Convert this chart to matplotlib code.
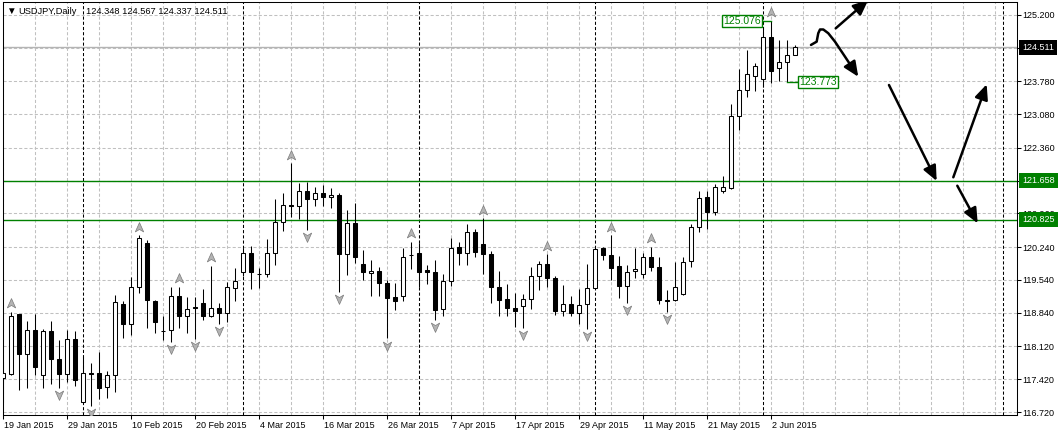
import matplotlib
matplotlib.use('Agg')
import matplotlib.pyplot as plt
import matplotlib.transforms as mtransforms
from matplotlib.path import Path
from matplotlib.patches import FancyArrowPatch
import numpy as np

plt.rcParams['font.family'] = ['Liberation Sans', 'DejaVu Sans']

# USDJPY daily, 19 Jan 2015 .. 5 Jun 2015
opens = [117.44, 117.53, 118.81, 117.95, 118.47, 117.50, 118.44, 117.85, 117.53, 118.27,
         116.94, 117.56, 117.55, 117.26, 117.50, 119.02, 118.59, 119.40, 120.34, 119.09,
         118.46, 118.47, 119.20, 118.76, 118.96, 119.04, 118.78, 118.94, 118.83, 119.36,
         119.70, 120.11, 119.67, 119.66, 120.11, 120.77, 121.14, 121.11, 121.44, 121.28,
         121.39, 121.31, 121.36, 120.09, 120.75, 119.88, 119.68, 119.73, 119.47, 119.18,
         119.20, 120.08, 120.11, 119.75, 119.70, 118.91, 119.52, 120.25, 120.11, 120.57,
         120.30, 120.09, 119.38, 119.13, 118.94, 118.99, 119.13, 119.63, 119.88, 119.59,
         118.88, 119.02, 118.83, 119.02, 119.36, 120.22, 120.07, 119.84, 119.41, 119.73,
         119.66, 120.04, 119.81, 119.11, 119.11, 119.23, 119.94, 120.67, 121.32, 120.99,
         121.45, 121.50, 123.05, 123.60, 123.90, 123.83, 124.72, 124.06, 124.20, 124.348]
highs = [117.79, 118.86, 118.81, 118.67, 118.81, 118.49, 118.66, 118.26, 118.47, 118.44,
         117.90, 117.76, 118.00, 117.60, 119.22, 119.09, 119.60, 120.49, 120.39, 119.11,
         118.76, 119.40, 119.40, 119.17, 119.17, 119.34, 119.84, 119.05, 119.50, 119.79,
         120.23, 120.27, 119.79, 120.41, 121.26, 121.39, 122.03, 121.62, 121.64, 121.52,
         121.57, 121.50, 121.39, 121.03, 121.18, 120.18, 119.97, 119.82, 119.55, 119.47,
         120.22, 120.36, 120.32, 119.86, 119.97, 119.66, 120.44, 120.36, 120.74, 120.62,
         120.86, 120.16, 119.73, 119.45, 119.26, 119.24, 119.81, 119.95, 120.09, 119.63,
         119.43, 119.20, 119.34, 119.88, 120.25, 120.25, 120.50, 120.05, 119.86, 120.22,
         120.11, 120.25, 120.04, 119.33, 119.93, 120.02, 120.74, 121.43, 121.43, 121.58,
         121.76, 123.29, 124.05, 124.45, 124.18, 124.95, 125.076, 124.67, 124.67, 124.567]
lows = [116.93, 117.52, 117.18, 117.24, 117.51, 117.24, 117.32, 117.24, 117.36, 117.28,
        116.93, 116.85, 117.00, 117.01, 117.15, 118.31, 118.36, 119.27, 118.51, 118.40,
        118.26, 118.22, 118.52, 118.41, 118.28, 118.69, 118.74, 118.61, 118.64, 119.09,
        119.63, 119.35, 119.36, 119.61, 119.86, 120.59, 120.89, 120.84, 120.61, 121.12,
        121.11, 121.07, 119.29, 119.65, 119.90, 119.55, 119.20, 119.20, 118.29, 118.90,
        119.10, 119.77, 119.40, 119.45, 118.69, 118.78, 119.41, 119.86, 119.85, 120.04,
        119.67, 119.05, 118.78, 118.78, 118.54, 118.52, 118.91, 119.33, 119.40, 118.79,
        118.78, 118.77, 118.59, 118.49, 119.35, 119.97, 119.55, 119.16, 119.04, 119.58,
        119.58, 119.74, 119.02, 118.86, 119.10, 119.22, 119.81, 120.56, 120.62, 120.93,
        121.40, 121.48, 122.74, 123.45, 123.58, 123.67, 123.74, 123.78, 123.773, 124.337]
closes = [117.55, 118.77, 117.95, 118.47, 117.69, 118.44, 117.86, 117.53, 118.27, 117.40,
          117.56, 117.53, 117.23, 117.51, 119.08, 118.61, 119.40, 120.43, 119.11, 118.65,
          118.45, 119.20, 118.76, 118.91, 118.95, 118.78, 118.94, 118.84, 119.40, 119.52,
          120.11, 119.70, 119.66, 120.11, 120.77, 121.14, 121.12, 121.44, 121.26, 121.40,
          121.31, 121.36, 120.09, 120.75, 120.02, 119.70, 119.74, 119.47, 119.16, 119.10,
          120.04, 120.07, 119.72, 119.70, 118.90, 119.52, 120.22, 120.11, 120.56, 120.14,
          120.09, 119.38, 119.11, 118.95, 118.88, 119.13, 119.63, 119.88, 119.58, 118.88,
          119.02, 118.83, 119.01, 119.36, 120.20, 120.07, 119.80, 119.41, 119.70, 119.77,
          120.04, 119.81, 119.11, 119.10, 119.38, 119.93, 120.67, 121.30, 120.99, 121.52,
          121.52, 123.04, 123.60, 123.93, 124.12, 124.72, 124.01, 124.19, 124.35, 124.511]

# bar indices carrying a fractal mark
up_fractals = [1, 17, 22, 26, 36, 51, 60, 68, 76, 81, 96]
down_fractals = [7, 11, 21, 24, 27, 38, 42, 48, 54, 65, 73, 78, 83]

date_labels = ['19 Jan 2015', '29 Jan 2015', '10 Feb 2015', '20 Feb 2015', '4 Mar 2015',
               '16 Mar 2015', '26 Mar 2015', '7 Apr 2015', '17 Apr 2015', '29 Apr 2015',
               '11 May 2015', '21 May 2015', '2 Jun 2015']
month_starts = [10, 30, 52, 74, 95, 125]

price_ticks = [125.20, 124.49, 123.78, 123.08, 122.36, 121.66, 120.96,
               120.24, 119.54, 118.84, 118.12, 117.42, 116.72]
price_tick_labels = ['125.200', '124.490', '123.780', '123.080', '122.360', '121.660', '120.960',
                     '120.240', '119.540', '118.840', '118.120', '117.420', '116.720']

bid = 124.511
levels = [121.658, 120.825]

# hand drawn scenario arrows (bar index, price)
squiggle = [(101.0, 124.56), (101.71, 124.63), (101.91, 124.81), (102.13, 124.89),
            (102.54, 124.89), (103.16, 124.81), (104.0, 124.63), (105.25, 124.31),
            (106.91, 123.88)]
arrows = [((104.09, 124.915), (108.16, 125.52)),
          ((110.75, 123.704), (116.71, 121.654)),
          ((118.79, 121.733), (122.96, 123.719)),
          ((119.29, 121.553), (121.84, 120.750))]

GREEN = '#008000'
GRID = '#c0c0c0'

fig = plt.figure(figsize=(10.6, 4.33), dpi=100)
ax = fig.add_axes([2.5 / 1060, 18 / 433, 1014 / 1060, 413 / 433])
ax.set_xlim(-0.0625, 126.69)
ax.set_ylim(116.656, 125.477)

o = np.array(opens)
h = np.array(highs)
l = np.array(lows)
c = np.array(closes)
x = np.arange(len(o))

# grid
for xv in np.arange(0, 127, 4):
    ax.axvline(xv, color=GRID, lw=0.75, ls=(0, (3, 2)), zorder=1)
for yv in price_ticks:
    ax.axhline(yv, color=GRID, lw=0.75, ls=(0, (3, 2)), zorder=1)
for xv in month_starts:
    ax.axvline(xv, color='black', lw=0.75, ls=(0, (3, 2)), zorder=2)

ax.axhline(bid, color='#b4b4b4', lw=1.0, zorder=2)
for lv in levels:
    ax.axhline(lv, color=GREEN, lw=1.0, zorder=2)

# candles
up = c >= o
ax.vlines(x, l, h, color='black', lw=0.75, zorder=3)
body_lo = np.minimum(o, c)
body_h = np.maximum(np.abs(c - o), 0.008)
ax.bar(x, body_h, bottom=body_lo, width=0.5,
       color=np.where(up, 'white', 'black'), edgecolor='black', lw=0.75, zorder=4)

# fractals
up_mark = Path([(0, 1), (0.85, -0.9), (0, -0.4), (-0.85, -0.9), (0, 1)],
               [Path.MOVETO, Path.LINETO, Path.LINETO, Path.LINETO, Path.CLOSEPOLY])
dn_mark = Path([(0, -1), (0.85, 0.9), (0, 0.4), (-0.85, 0.9), (0, -1)],
               [Path.MOVETO, Path.LINETO, Path.LINETO, Path.LINETO, Path.CLOSEPOLY])
ax.scatter(up_fractals, h[up_fractals] + 0.18, marker=up_mark, s=50,
           c='#b4b4b4', edgecolors='#7a7a7a', linewidths=0.5, zorder=5)
ax.scatter(down_fractals, l[down_fractals] - 0.15, marker=dn_mark, s=50,
           c='#b4b4b4', edgecolors='#7a7a7a', linewidths=0.5, zorder=5)

# arrows
head = '-|>,head_length=0.9,head_width=0.4'
ax.add_patch(FancyArrowPatch(path=Path(squiggle), arrowstyle=head, mutation_scale=10,
                             lw=1.8, color='black', zorder=6))
for start, tip in arrows:
    ax.add_patch(FancyArrowPatch(start, tip, arrowstyle=head, mutation_scale=10,
                                 lw=1.8, color='black', shrinkA=0, shrinkB=0, zorder=6))

# high / low price labels
hi_i = 96
lo_i = 98
ax.plot([hi_i - 1.1, hi_i], [h[hi_i], h[hi_i]], color=GREEN, lw=1, zorder=6)
ax.text(hi_i - 1.25, h[hi_i] - 0.01, '125.076', ha='right', va='center', fontsize=7.5,
        color=GREEN, zorder=7,
        bbox=dict(boxstyle='square,pad=0.12', fc='white', ec=GREEN, lw=1))
ax.plot([lo_i, lo_i + 1.4], [l[lo_i], l[lo_i]], color=GREEN, lw=1, zorder=6)
ax.text(lo_i + 1.55, l[lo_i], '123.773', ha='left', va='center', fontsize=7.5,
        color=GREEN, zorder=7,
        bbox=dict(boxstyle='square,pad=0.12', fc='white', ec=GREEN, lw=1))

# axes styling
for s in ax.spines.values():
    s.set_color('black')
    s.set_linewidth(0.75)
ax.yaxis.tick_right()
ax.set_yticks(price_ticks, price_tick_labels)
ax.tick_params(axis='y', length=3, width=0.75, pad=1.5, labelsize=6.5)
ax.set_xticks(np.arange(0, 8 * len(date_labels), 8), date_labels)
ax.tick_params(axis='x', length=3, width=0.75, pad=1.5, labelsize=6.5)
shift = mtransforms.ScaledTranslation(1.5 / 100, 0, fig.dpi_scale_trans)
for lbl in ax.get_xticklabels():
    lbl.set_ha('left')
    lbl.set_transform(lbl.get_transform() + shift)

# right axis boxes
ytrans = mtransforms.blended_transform_factory(ax.transAxes, ax.transData)
ax.text(1.0055, bid, '124.511', transform=ytrans, ha='left', va='center', fontsize=6.5,
        color='white', clip_on=False, zorder=10,
        bbox=dict(boxstyle='square,pad=0.35', fc='black', ec='none'))
for lv in levels:
    ax.text(1.0055, lv, f'{lv:.3f}', transform=ytrans, ha='left', va='center', fontsize=6.5,
            color='white', clip_on=False, zorder=10,
            bbox=dict(boxstyle='square,pad=0.35', fc=GREEN, ec='none'))

# header
fig.text(6 / 1060, 1 - 11 / 433, '▼', fontsize=7, va='center')
fig.text(18 / 1060, 1 - 11 / 433, 'USDJPY,Daily', fontsize=6.7, va='center')
fig.text(86 / 1060, 1 - 11 / 433,
         f'{opens[-1]:.3f} {highs[-1]:.3f} {lows[-1]:.3f} {closes[-1]:.3f}',
         fontsize=6.7, va='center')

fig.savefig('out.png', dpi=100, facecolor='white')
